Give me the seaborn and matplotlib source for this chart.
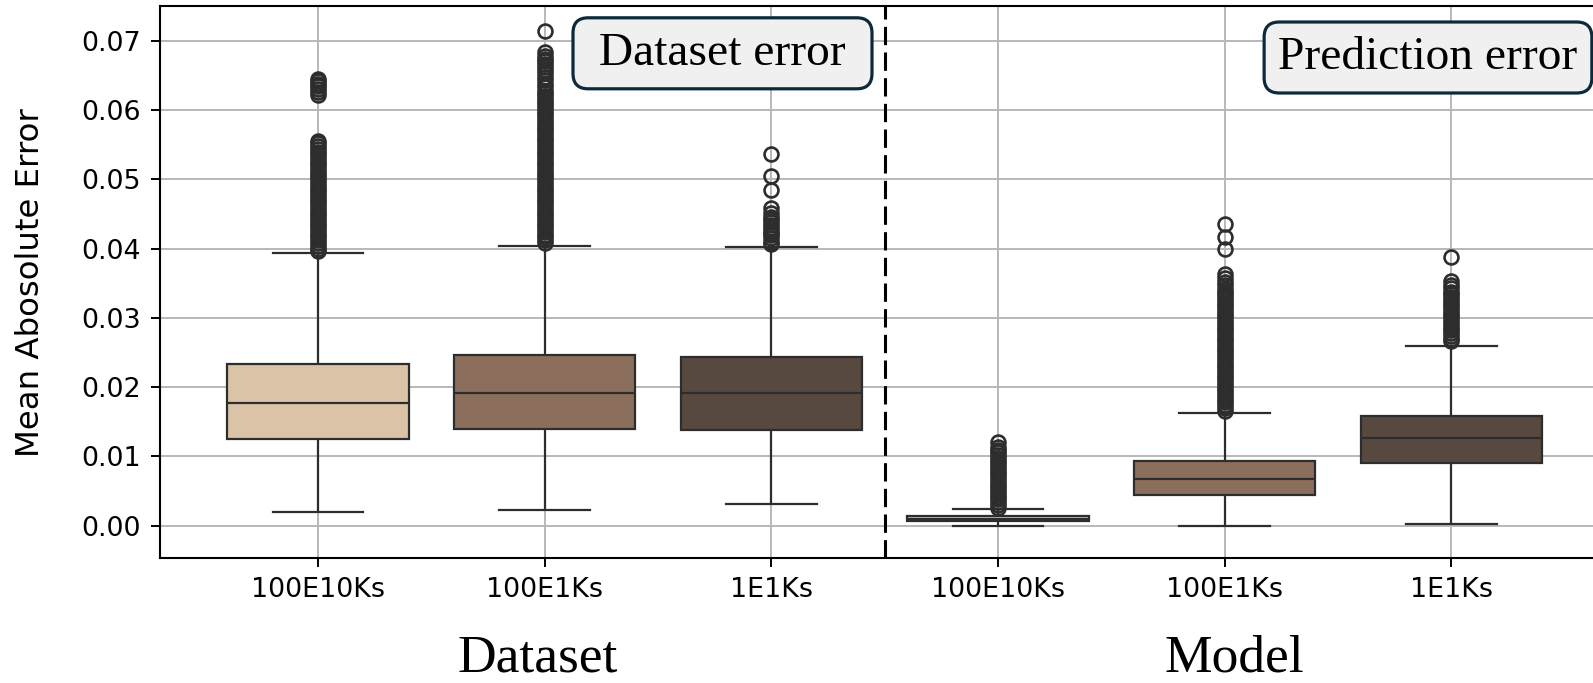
import matplotlib
matplotlib.use("Agg")
import matplotlib.pyplot as plt
import pandas as pd
import seaborn as sns

# ---- data -----------------------------------------------------------------
groups = ["Dataset", "Dataset", "Dataset", "Model", "Model", "Model"]
datasets = ["100E10Ks", "100E1Ks", "1E1Ks", "100E10Ks", "100E1Ks", "1E1Ks"]
dataset_order = ["100E10Ks", "100E1Ks", "1E1Ks"]

# five-number summary of each box (whisker ends, quartiles, median)
whisker_low = [0.0020, 0.0022, 0.0032, 0.0000, 0.0000, 0.0003]
quartile_1 = [0.0125, 0.0140, 0.0138, 0.0007, 0.0045, 0.0090]
medians = [0.0177, 0.0192, 0.0192, 0.0010, 0.0068, 0.0126]
quartile_3 = [0.0233, 0.0246, 0.0244, 0.0014, 0.0093, 0.0159]
whisker_high = [0.0393, 0.0404, 0.0402, 0.0024, 0.0163, 0.0260]

# outliers above the upper whisker
outliers_dataset_100e10ks = [
    0.0396, 0.0400, 0.0404, 0.0408, 0.0412, 0.0416, 0.0420, 0.0424, 0.0428, 0.0432,
    0.0436, 0.0440, 0.0444, 0.0448, 0.0452, 0.0456, 0.0460, 0.0464, 0.0468, 0.0472,
    0.0476, 0.0480, 0.0484, 0.0488, 0.0492, 0.0496, 0.0500, 0.0504, 0.0508, 0.0512,
    0.0516, 0.0520, 0.0524, 0.0528, 0.0532, 0.0536, 0.0540, 0.0544, 0.0548, 0.0552,
    0.0555, 0.0622, 0.0626, 0.0630, 0.0634, 0.0638, 0.0642, 0.0644,
]
outliers_dataset_100e1ks = [
    0.0408, 0.0412, 0.0416, 0.0420, 0.0424, 0.0428, 0.0432, 0.0436, 0.0440, 0.0444,
    0.0448, 0.0452, 0.0456, 0.0460, 0.0464, 0.0468, 0.0472, 0.0476, 0.0480, 0.0484,
    0.0488, 0.0492, 0.0496, 0.0500, 0.0504, 0.0508, 0.0512, 0.0516, 0.0520, 0.0524,
    0.0528, 0.0532, 0.0536, 0.0540, 0.0544, 0.0548, 0.0552, 0.0556, 0.0560, 0.0564,
    0.0568, 0.0572, 0.0576, 0.0580, 0.0584, 0.0588, 0.0592, 0.0596, 0.0600, 0.0604,
    0.0608, 0.0612, 0.0616, 0.0620, 0.0624, 0.0628, 0.0633, 0.0638, 0.0643, 0.0648,
    0.0653, 0.0658, 0.0662, 0.0666, 0.0670, 0.0674, 0.0678, 0.0683, 0.0714,
]
outliers_dataset_1e1ks = [
    0.0406, 0.0410, 0.0415, 0.0419, 0.0422, 0.0426, 0.0430, 0.0434, 0.0438, 0.0442,
    0.0446, 0.0451, 0.0458, 0.0485, 0.0504, 0.0536,
]
outliers_model_100e10ks = [
    0.0026, 0.0030, 0.0034, 0.0038, 0.0042, 0.0046, 0.0050, 0.0054, 0.0058, 0.0062,
    0.0066, 0.0070, 0.0074, 0.0078, 0.0082, 0.0086, 0.0090, 0.0094, 0.0098, 0.0102,
    0.0106, 0.0110, 0.0114, 0.0121,
]
outliers_model_100e1ks = [
    0.0166, 0.0170, 0.0174, 0.0178, 0.0182, 0.0186, 0.0190, 0.0194, 0.0198, 0.0202,
    0.0206, 0.0210, 0.0214, 0.0218, 0.0222, 0.0226, 0.0230, 0.0234, 0.0238, 0.0242,
    0.0246, 0.0250, 0.0254, 0.0258, 0.0262, 0.0266, 0.0270, 0.0274, 0.0278, 0.0282,
    0.0286, 0.0290, 0.0294, 0.0298, 0.0302, 0.0306, 0.0310, 0.0314, 0.0318, 0.0322,
    0.0326, 0.0330, 0.0334, 0.0338, 0.0342, 0.0347, 0.0352, 0.0357, 0.0363, 0.0399,
    0.0417, 0.0435,
]
outliers_model_1e1ks = [
    0.0266, 0.0270, 0.0274, 0.0278, 0.0282, 0.0286, 0.0290, 0.0294, 0.0298, 0.0302,
    0.0306, 0.0310, 0.0314, 0.0318, 0.0322, 0.0326, 0.0330, 0.0334, 0.0338, 0.0343,
    0.0348, 0.0353, 0.0388,
]
outliers = [
    outliers_dataset_100e10ks, outliers_dataset_100e1ks, outliers_dataset_1e1ks,
    outliers_model_100e10ks, outliers_model_100e1ks, outliers_model_1e1ks,
]

y_ticks = [0.00, 0.01, 0.02, 0.03, 0.04, 0.05, 0.06, 0.07]
palette = {"100E10Ks": "#dbc3a8", "100E1Ks": "#8b6f5c", "1E1Ks": "#584940"}
line_color = "#2d2d2d"

# ---- long-form table: each box is rebuilt from its summary so that the
# quartiles, whisker ends and outliers come out as listed above ------------
rows = []
for i, (g, d) in enumerate(zip(groups, datasets)):
    weight = 150
    values = ([whisker_low[i]] + [quartile_1[i]] * weight + [medians[i]] * weight
              + [quartile_3[i]] * weight + [whisker_high[i]] + outliers[i])
    for v in values:
        rows.append({"slot": f"{g}/{d}", "dataset": d, "mae": v})
df = pd.DataFrame(rows)
slot_order = [f"{g}/{d}" for g, d in zip(groups, datasets)]

# ---- figure ---------------------------------------------------------------
W, H = 1593, 683
fig = plt.figure(figsize=(W / 100, H / 100), dpi=100)
ax = fig.add_axes([159.5 / W, 1 - 558.3 / H, 1450.4 / W, (558.3 - 6) / H])

sns.boxplot(
    data=df, x="slot", y="mae", hue="dataset", order=slot_order,
    hue_order=dataset_order, palette=palette, saturation=1, dodge=False,
    width=0.8, linewidth=1.6, linecolor=line_color, fliersize=10,
    flierprops=dict(marker="o", markerfacecolor="none",
                    markeredgecolor=line_color, markeredgewidth=1.9),
    legend=False, ax=ax,
)

ax.set_xlim(-0.7, 5.7)
ax.set_ylim(-0.0047, 0.0750)
ax.set_xticks(range(len(datasets)))
ax.set_xticklabels(datasets)
ax.set_yticks(y_ticks)
ax.set_yticklabels([f"{t:.2f}" for t in y_ticks])
ax.tick_params(axis="both", labelsize=19.4, length=6.8, width=1.4, pad=6.8,
               colors="black")
ax.set_xlabel("")
ax.set_ylabel("Mean Abosolute Error", fontsize=23.3)
ax.yaxis.set_label_coords(-0.0783, 0.5)

ax.grid(True, color="#b8b8b8", linewidth=1.4)
ax.set_axisbelow(True)
for side in ["left", "right", "top", "bottom"]:
    ax.spines[side].set_color("black")
    ax.spines[side].set_linewidth(1.5)

# separator between the two groups
ax.axvline(2.5, color="black", linewidth=2.2, linestyle=(0, (6, 2.4)), zorder=3)

# group captions under the tick labels
serif = "Liberation Serif"
fig.text(537.6 / W, 1 - 671 / H, "Dataset", family=serif, fontsize=38.5,
         ha="center", va="baseline")
fig.text(1234 / W, 1 - 671 / H, "Model", family=serif, fontsize=38.5,
         ha="center", va="baseline")

# boxed panel titles
box_style = dict(boxstyle="round,pad=0.3,rounding_size=0.32",
                 facecolor="#f0f0f0", edgecolor="#0c2a3c", linewidth=2.3)
fig.text(722.5 / W, 1 - 53.3 / H, " Dataset error ", family=serif, fontsize=34.2,
         ha="center", va="center", bbox=box_style)
fig.text(1428 / W, 1 - 57.5 / H, "Prediction error", family=serif, fontsize=34.2,
         ha="center", va="center", bbox=box_style)

fig.savefig("out.png", dpi=100)
